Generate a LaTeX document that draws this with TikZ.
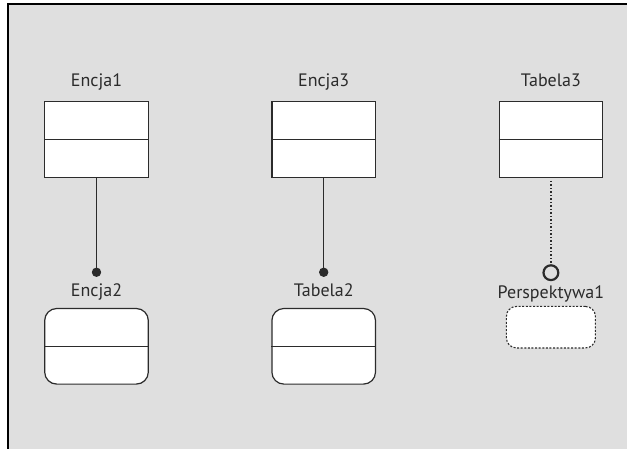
\documentclass[tikz,border=0pt]{standalone}
\usepackage{fontspec}
\setmainfont{PT Sans}
\usepackage{tikz}
\usetikzlibrary{arrows.meta, positioning}
\definecolor{canvas}{HTML}{DFDFDF}
\definecolor{ink}{HTML}{2B2B2B}
\tikzstyle{tablebox} = [rectangle, minimum width=103.6pt, minimum height=75.6pt, draw=ink, line width=1.2pt, fill=white]
\tikzstyle{roundbox} = [tablebox, rounded corners=12pt]
\tikzstyle{viewbox} = [rectangle, rounded corners=10pt, minimum width=89pt, minimum height=41.5pt, draw=ink, line width=1.1pt, dash pattern=on 2pt off 1.6pt, fill=white]
\tikzstyle{boxtitle} = [inner sep=0pt, text depth=0pt, font=\fontsize{18}{21}\selectfont, text=ink]
\tikzstyle{link} = [line width=1.2pt, draw=ink, -{Circle[length=9.3pt]}]
\tikzstyle{weaklink} = [line width=1.2pt, draw=ink, dash pattern=on 1.5pt off 2pt, shorten <=3pt, -{Circle[open, length=17pt, line width=2.2pt]}]

\begin{document}
\begin{tikzpicture}[node distance=130pt]

\useasboundingbox (0,0) rectangle (627pt,-449pt);
\fill [white] (0,0) rectangle (627pt,-449pt);
\fill [canvas] (8pt,-4pt) rectangle (627pt,-449pt);
\draw [line width=1.4pt] (8pt,-449pt) -- (8pt,-4pt) -- (627pt,-4pt);

\node (e1) [tablebox] at (96.5pt,-139.5pt) {};
\node (e3) [tablebox, right=122.4pt of e1] {};
\node (t3) [tablebox, right=122.4pt of e3] {};
\node (e2) [roundbox, below=of e1] {};
\node (t2) [roundbox, below=of e3] {};
\node (p1) [viewbox, below=128pt of t3] {};

\foreach \n in {e1,e2,e3,t2,t3}
  \draw [ink, line width=1.2pt] (\n.west) -- (\n.east);

\node (e1title) [boxtitle, above=14.5pt of e1] {Encja1};
\node (e3title) [boxtitle, above=14.5pt of e3] {Encja3};
\node (t3title) [boxtitle, above=14.5pt of t3] {Tabela3};
\node (e2title) [boxtitle, above=11.5pt of e2] {Encja2};
\node (t2title) [boxtitle, above=11pt of t2] {Tabela2};
\node (p1title) [boxtitle, above=7.5pt of p1] {Perspektywa1};

\coordinate [above=31pt of e2] (e2end);
\coordinate [above=31pt of t2] (t2end);
\coordinate [above=24.7pt of p1] (p1end);

\draw [link] (e1) -- (e2end);
\draw [link] (e3) -- (t2end);
\draw [weaklink] (t3) -- (p1end);

\end{tikzpicture}
\end{document}
